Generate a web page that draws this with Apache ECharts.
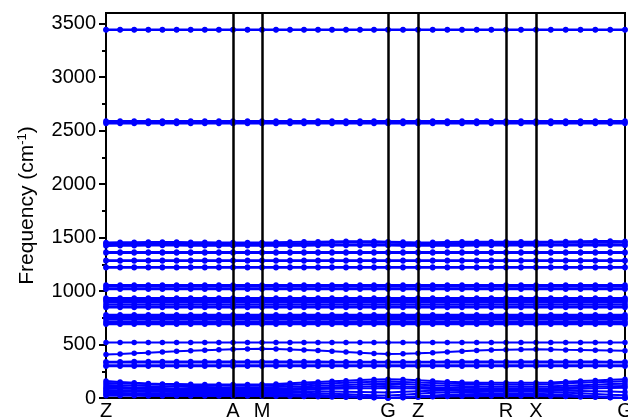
<!DOCTYPE html>
<html>
<head>
<meta charset="utf-8">
<script src="https://cdn.jsdelivr.net/npm/echarts@6/dist/echarts.min.js"></script>
<style>
html,body{margin:0;padding:0;background:#fff}
#chart{width:628px;height:418px}
</style>
</head>
<body>
<div id="chart"></div>
<script>
// Path length of every k-point along Z-A-M-G-Z-R-X-G
const kPath = [
  0, 0.141, 0.282, 0.423, 0.564, 0.706, 0.847, 0.988, 1.129, 1.27,
  1.415, 1.56,
  1.70, 1.84, 1.98, 2.12, 2.26, 2.40, 2.54, 2.68, 2.82,
  2.97, 3.12,
  3.267, 3.413, 3.56, 3.707, 3.853, 4.00,
  4.15, 4.30,
  4.448, 4.597, 4.745, 4.893, 5.042, 5.19
];
// High-symmetry points
const kTicks = [0, 1.27, 1.56, 2.82, 3.12, 4.00, 4.30, 5.19];
const kNames = ['Z', 'A', 'M', 'G', 'Z', 'R', 'X', 'G'];

// Frequency axis ticks (cm^-1)
const yTicks = [0, 500, 1000, 1500, 2000, 2500, 3000, 3500];
const yMinorTicks = [250, 750, 1250, 1750, 2250, 2750, 3250];

// Stretching modes, 2500-3450 cm^-1
const bandsStretch = [
  [3446,3446,3446,3446,3446,3446,3446,3446,3446,3446, 3446,3446, 3446,3446,3446,3446,3446,3446,3446,3446,3446, 3446,3446, 3446,3446,3446,3446,3446,3446, 3446,3446, 3446,3446,3446,3446,3446,3446],
  [3441,3441,3441,3441,3441,3441,3441,3441,3441,3441, 3441,3441, 3441,3441,3441,3441,3441,3441,3441,3441,3441, 3441,3441, 3441,3441,3441,3441,3441,3441, 3441,3441, 3441,3441,3441,3441,3441,3441],
  [2590,2590,2590,2590,2590,2590,2590,2590,2590,2590, 2590,2590, 2590,2590,2590,2590,2590,2590,2590,2590,2590, 2590,2590, 2590,2590,2590,2590,2590,2590, 2590,2590, 2590,2590,2590,2590,2590,2590],
  [2579,2579,2579,2579,2579,2579,2579,2579,2579,2579, 2579,2579, 2579,2579,2579,2579,2579,2579,2579,2579,2579, 2579,2579, 2579,2579,2579,2579,2579,2579, 2579,2579, 2579,2579,2579,2579,2579,2579],
  [2567,2567,2567,2567,2567,2567,2567,2567,2567,2567, 2567,2567, 2567,2567,2567,2567,2567,2567,2567,2567,2567, 2567,2567, 2567,2567,2567,2567,2567,2567, 2567,2567, 2567,2567,2567,2567,2567,2567]
];

// Bending modes, 1200-1470 cm^-1
const bandsBend = [
  [1455,1456,1457,1458,1458,1458,1457,1456,1455,1454, 1454,1455, 1456,1458,1460,1462,1464,1465,1466,1466,1462, 1458,1455, 1456,1458,1460,1461,1461,1460, 1460,1461, 1462,1464,1466,1467,1467,1466],
  [1446,1447,1448,1448,1447,1446,1445,1444,1444,1443, 1443,1444, 1445,1446,1448,1450,1452,1454,1455,1455,1452, 1449,1446, 1447,1448,1449,1450,1450,1449, 1449,1450, 1451,1452,1454,1455,1455,1454],
  [1430,1431,1432,1433,1433,1433,1432,1432,1431,1431, 1431,1431, 1432,1432,1433,1434,1435,1436,1436,1437,1436, 1434,1432, 1432,1433,1434,1434,1434,1433, 1433,1434, 1435,1436,1437,1437,1437,1436],
  [1422,1423,1424,1425,1425,1425,1424,1424,1423,1423, 1423,1423, 1423,1424,1424,1425,1425,1426,1426,1426,1425, 1424,1423, 1423,1424,1424,1425,1425,1425, 1425,1425, 1425,1426,1426,1427,1427,1426],
  [1366,1366,1366,1366,1366,1366,1366,1366,1366,1366, 1366,1366, 1366,1366,1366,1366,1366,1366,1366,1366,1366, 1366,1366, 1366,1366,1366,1366,1366,1366, 1366,1366, 1366,1366,1366,1366,1366,1366],
  [1357,1357,1357,1357,1357,1357,1357,1357,1357,1357, 1357,1357, 1357,1357,1357,1357,1357,1357,1357,1357,1357, 1357,1357, 1357,1357,1357,1357,1357,1357, 1357,1357, 1357,1357,1357,1357,1357,1357],
  [1289,1289,1289,1289,1289,1289,1289,1289,1289,1289, 1289,1289, 1289,1289,1289,1289,1289,1289,1289,1289,1289, 1289,1289, 1289,1289,1289,1289,1289,1289, 1289,1289, 1289,1289,1289,1289,1289,1289],
  [1280,1280,1280,1280,1280,1280,1280,1280,1280,1280, 1280,1280, 1280,1280,1280,1280,1280,1280,1280,1280,1280, 1280,1280, 1280,1280,1280,1280,1280,1280, 1280,1280, 1280,1280,1280,1280,1280,1280],
  [1226,1226,1226,1226,1226,1226,1226,1226,1226,1226, 1226,1226, 1226,1226,1226,1226,1226,1226,1226,1226,1226, 1226,1226, 1226,1226,1226,1226,1226,1226, 1226,1226, 1226,1226,1226,1226,1226,1226],
  [1218,1218,1218,1218,1218,1218,1218,1218,1218,1218, 1218,1218, 1218,1218,1218,1218,1218,1218,1218,1218,1218, 1218,1218, 1218,1218,1218,1218,1218,1218, 1218,1218, 1218,1218,1218,1218,1218,1218]
];

// Mid-frequency modes, 680-1060 cm^-1 (flat along the whole path)
const midLevels = [1056, 1046, 1027, 1018, 936, 926, 911, 898, 877, 858, 846, 778, 767, 749, 738, 717, 701, 689];
const bandsMid = midLevels.map(v => kPath.map(() => v));

// Low optical modes, 290-520 cm^-1
const bandsLow = [
  [518,518,518,518,518,518,518,518,518,518, 518,518, 518,518,518,518,518,518,518,518,518, 518,518, 518,518,518,518,518,518, 518,518, 518,518,518,518,518,518],
  [407,412,418,424,430,436,442,447,451,455, 458,460, 458,454,449,443,437,430,423,417,412, 414,418, 424,431,438,444,449,452, 454,455, 453,450,448,446,444,442],
  [340,340,341,341,342,342,342,342,342,342, 342,342, 342,342,341,341,340,340,339,338,338, 338,339, 340,341,341,342,342,342, 342,342, 342,342,341,341,340,340],
  [333,333,333,333,333,333,333,333,333,333, 333,333, 333,333,333,333,333,333,333,333,333, 333,333, 333,333,333,333,333,333, 333,333, 333,333,333,333,333,333],
  [307,307,307,307,307,307,307,307,307,307, 307,307, 307,307,307,307,307,307,307,307,307, 307,307, 307,307,307,307,307,307, 307,307, 307,307,307,307,307,307],
  [298,298,298,298,298,298,298,298,298,298, 298,298, 298,298,298,298,298,298,298,298,298, 298,298, 298,298,298,298,298,298, 298,298, 298,298,298,298,298,298]
];

// Lattice and acoustic modes, 0-180 cm^-1
const bandsLattice = [
  [158,150,142,136,132,130,128,127,126,126, 127,128, 132,138,144,150,156,162,168,173,176, 172,165, 158,152,148,145,143,142, 142,143, 146,152,158,164,170,176],
  [140,138,134,130,126,122,120,118,116,115, 116,117, 120,124,128,133,138,143,148,152,155, 150,144, 140,136,132,130,128,127, 127,128, 132,137,142,147,152,156],
  [122,120,117,113,110,107,104,102,100,99, 100,101, 104,107,110,114,118,122,126,130,134, 130,125, 120,116,112,110,108,107, 107,108, 111,115,120,125,130,134],
  [104,102,99,96,93,90,88,86,85,84, 85,86, 88,91,94,97,100,103,106,109,112, 108,104, 100,97,95,93,92,91, 91,92, 94,98,102,106,110,113],
  [90,88,86,84,82,80,78,77,76,75, 76,77, 78,80,82,84,86,88,90,92,94, 91,88, 85,83,81,80,79,78, 78,79, 81,84,87,90,93,95],
  [74,73,72,71,70,69,68,67,66,66, 66,67, 66,65,64,62,60,58,56,54,52, 58,64, 68,70,71,72,72,72, 72,72, 70,68,66,63,60,56],
  [60,60,60,59,58,57,56,55,55,54, 55,55, 54,52,49,45,40,35,30,26,24, 30,40, 48,52,55,57,58,58, 58,58, 55,50,44,38,31,26],
  [46,46,45,45,44,44,43,43,42,42, 42,42, 40,37,33,29,24,19,13,7,0, 8,16, 24,30,34,37,39,40, 40,40, 36,30,23,16,8,0],
  [32,32,32,31,31,30,30,29,29,29, 29,29, 28,26,23,20,16,12,8,4,0, 5,11, 17,22,26,28,29,30, 30,30, 26,21,16,11,5,0],
  [20,20,20,19,19,19,18,18,18,18, 18,18, 17,16,14,12,10,7,5,2,0, 3,7, 11,14,16,17,18,18, 18,18, 16,13,10,7,3,0]
];

const BLUE = '#0000ff';
const FONT = 'Liberation Sans, Arial, sans-serif';

const allBands = [].concat(bandsStretch, bandsBend, bandsMid, bandsLow, bandsLattice);

const series = allBands.map(band => ({
  type: 'line',
  data: band.map((v, i) => [kPath[i], v]),
  symbol: 'circle',
  symbolSize: 5.5,
  showAllSymbol: true,
  lineStyle: { color: BLUE, width: 2 },
  itemStyle: { color: BLUE },
  silent: true,
  z: 2
}));

// Vertical separators at the inner high-symmetry points
series.push({
  type: 'line',
  data: [],
  z: 5,
  markLine: {
    silent: true,
    symbol: ['none', 'none'],
    label: { show: false },
    lineStyle: { color: '#000', width: 2.5, type: 'solid' },
    data: kTicks.slice(1, -1).map(x => ({ xAxis: x }))
  }
});

function kLabel(v) {
  let best = 0;
  kTicks.forEach((t, i) => { if (Math.abs(t - v) < Math.abs(kTicks[best] - v)) best = i; });
  return kNames[best];
}

const chart = echarts.init(document.getElementById('chart'), null, { renderer: 'canvas' });
chart.setOption({
  animation: false,
  backgroundColor: '#fff',
  grid: {
    left: 106, right: 3, top: 13, bottom: 20,
    outerBoundsMode: 'none',
    containLabel: false,
    show: true, borderColor: '#000', borderWidth: 2, backgroundColor: 'transparent'
  },
  xAxis: {
    type: 'value', min: 0, max: 5.19,
    axisLine: { show: false },
    axisTick: { show: false },
    splitLine: { show: false },
    axisLabel: {
      customValues: kTicks,
      formatter: kLabel,
      color: '#000', fontSize: 20, fontFamily: FONT, margin: 3
    }
  },
  yAxis: [
    {
      type: 'value', min: 0, max: 3600, position: 'left',
      axisLine: { show: false },
      splitLine: { show: false },
      axisTick: { show: true, inside: false, length: 7, customValues: yTicks, lineStyle: { color: '#000', width: 2 } },
      axisLabel: { customValues: yTicks, formatter: v => String(v), color: '#000', fontSize: 20, fontFamily: FONT, margin: 10 },
      name: '{a|Frequency (cm}{s|-1}{a|)}',
      nameLocation: 'middle',
      nameGap: 67,
      nameTextStyle: {
        rich: {
          a: { fontSize: 21, fontFamily: FONT, color: '#000', lineHeight: 23 },
          s: { fontSize: 13, fontFamily: FONT, color: '#000', verticalAlign: 'top', lineHeight: 23 }
        }
      }
    },
    {
      type: 'value', min: 0, max: 3600, position: 'left',
      axisLine: { show: false },
      splitLine: { show: false },
      axisLabel: { show: false },
      axisTick: { show: true, inside: false, length: 4, customValues: yMinorTicks, lineStyle: { color: '#000', width: 2 } }
    }
  ],
  series: series
});
</script>
</body>
</html>
